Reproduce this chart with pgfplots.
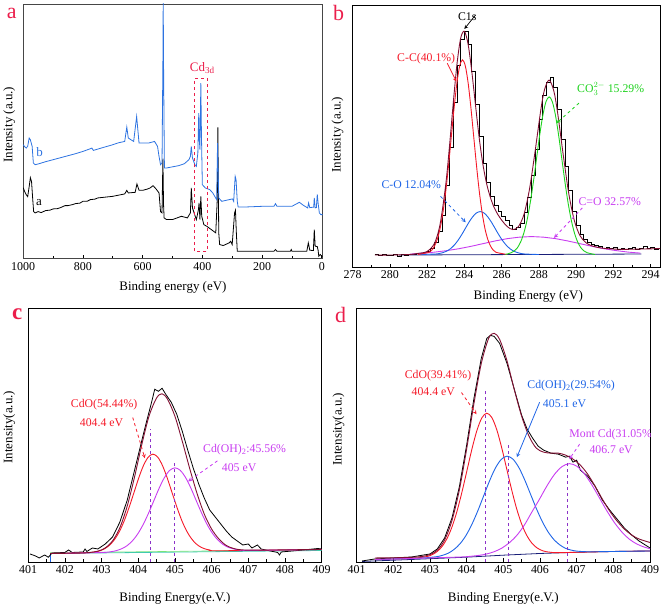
\documentclass[border=0pt]{standalone}
\usepackage{fontspec}
\setmainfont{Liberation Serif}
\usepackage{pgfplots}
\pgfplotsset{compat=1.18}
\definecolor{lblred}{RGB}{235,30,75}
\definecolor{cred}{RGB}{245,25,40}
\definecolor{cblue}{RGB}{30,100,230}
\definecolor{ablue}{RGB}{45,115,225}
\definecolor{cgreen}{RGB}{30,210,30}
\definecolor{cmag}{RGB}{200,60,240}
\definecolor{cenv}{RGB}{130,15,50}
\definecolor{cvl}{RGB}{140,50,200}
\definecolor{cnavy}{RGB}{25,30,120}
\definecolor{cteal}{RGB}{60,200,180}
\definecolor{frame}{RGB}{70,70,70}
\newcommand{\tf}{\fontsize{12}{14}\selectfont}
\newcommand{\lf}{\fontsize{13}{15}\selectfont}
\newcommand{\af}{\fontsize{11.8}{13.5}\selectfont}
\begin{document}
\begin{tikzpicture}
\path (0pt,0pt) rectangle (663pt,-611pt);
\pgfplotsset{panel/.style={scale only axis, enlargelimits=false, ytick=\empty,
  xtick pos=bottom, tick align=inside, minor x tick num=1,
  major tick length=4pt, minor tick length=2.5pt,
  axis line style={line width=0.8pt},
  every tick/.style={line width=0.6pt, black},
  xticklabel style={font=\tf},
  /pgf/number format/assume math mode=true, /pgf/number format/1000 sep={},
  clip=true, no markers, every axis plot/.append style={line width=0.9pt}}}

% ---------------- panel a ----------------
\begin{axis}[panel, at={(22pt,-259pt)}, anchor=south west, width=300pt, height=255pt,
  x dir=reverse, xmin=-3, xmax=1000, ymin=0, ymax=255,
  xtick={0,200,400,600,800,1000}, axis line style={frame, line width=0.8pt}]
\addplot[black, line width=0.8pt] coordinates {(1000,71)(995,67)(990,64)(985,62)(980,72)(976,81)(972,77)(968,59)(965,47)(960,45.7)(950,47)(940,46)(925,48)(910,48.5)(900,49.7)(885,50)(875,51)(860,53)(850,53)(835,54)(825,55)(810,55.5)(800,57.3)(785,57.5)(775,59)(760,59.5)(750,60.7)(725,61.5)(700,62.3)(680,63.5)(660,64.7)(653,68.3)(648,65.7)(625,66.3)(619,74.7)(612,68.3)(600,68.3)(585,69.5)(575,70.7)(565,73)(555,69.7)(545,65.7)(540,47)(535,45.7)(532,100)(530,55)(528,40.7)(520,39)(500,39)(470,42.3)(450,40.7)(440,45.7)(437,70.7)(433,50.7)(420,39)(413,49)(411,55.7)(408,39)(405,62.3)(402,42.3)(395,34)(385,32.3)(370,29)(355,25.7)(350,59)(348,131.3)(346,60)(345,25.7)(342,14)(330,13)(310,15.7)(305,17.3)(300,14)(292,45.7)(289,48.3)(286,25.7)(283,7.3)(250,7.3)(200,7.3)(160,7.3)(155,9)(150,7.3)(105,7.3)(102,9)(100,7.3)(50,7.3)(45,15.7)(40,8.3)(28,8)(25,29)(22,12.3)(15,12)(12,8)(10,2.3)(5,4)(0,2.3)(-3,2.3)};
\addplot[ablue, line width=0.8pt] coordinates {(1000,114)(995,112)(990,110.7)(985,112.3)(980,120.7)(976,119)(970,112.3)(966,95.7)(960,94)(950,94.7)(925,97)(900,99)(875,101)(850,103)(825,105)(800,107.3)(775,110)(770,110.7)(765,108.3)(735,111)(700,114)(680,116)(660,117.3)(653,131.7)(648,120.7)(630,117.3)(620,142.3)(612,115.7)(580,115.7)(560,117.3)(550,112.3)(545,102.3)(540,94)(535,95.7)(532,200)(531,262)(530,200)(527,90.7)(520,90.7)(480,93)(460,95)(445,99)(440,102.3)(437,112.3)(433,100.7)(425,94)(420,92.3)(415,105.7)(412,145.7)(410,119)(408,109)(405,175.7)(403,125.7)(400,74)(390,70.7)(375,69)(365,65.7)(352,59)(349,115.7)(345,60.7)(340,59)(335,57.3)(310,59)(299,59.7)(295,57.3)(290,82.3)(287,79)(283,57.3)(280,51.7)(250,51.7)(200,52.3)(160,52.3)(155,55)(150,52.3)(100,52.3)(75,56.3)(60,53)(47,50.7)(44,55.7)(40,51)(27,51.5)(25,60.7)(22,50.7)(18,51)(15,64.3)(12,55)(8,45.7)(3,44)(0,44)(-3,44)};
\draw[lblred, dashed, line width=0.9pt] (426,7.3) rectangle (384,180.7);
\node[lblred, font=\lf] at (400,191) {Cd\textsubscript{3d}};
\node[ablue, font=\lf] at (945,107) {b};
\node[black, font=\lf] at (947,56) {a};
\end{axis}

% ---------------- panel b ----------------
\begin{axis}[panel, at={(352pt,-268pt)}, anchor=south west, width=308pt, height=263pt,
  xmin=278, xmax=294.5, ymin=0, ymax=263, xtick={278,280,...,294}]
\addplot[cnavy, line width=0.8pt] coordinates {(280.5,12.5)(293.5,13.5)};
\addplot[black, const plot, line width=0.7pt] coordinates {(279.2,13)(279.4,12)(279.6,13.5)(279.8,12.5)(280.0,12)(280.2,13)(280.4,11.5)(280.6,13)(280.8,12.5)(281.0,13.5)(281.2,13)(281.4,14.5)(281.6,14)(281.8,15)(282.0,16.5)(282.2,19)(282.4,25)(282.6,36)(282.8,52)(283.0,82)(283.2,120)(283.4,165)(283.6,203)(283.8,229)(284.0,237)(284.2,224)(284.4,197)(284.6,163)(284.8,131)(285.0,104)(285.2,85)(285.4,71)(285.6,62)(285.8,56)(286.0,51)(286.2,47)(286.4,42)(286.6,38)(286.8,40)(287.0,44)(287.2,55)(287.4,70)(287.6,92)(287.8,118)(288.0,148)(288.2,172)(288.4,186)(288.6,191)(288.8,180)(289.0,158)(289.2,128)(289.4,101)(289.6,77)(289.8,56)(290.0,42)(290.2,33)(290.4,28)(290.6,25)(290.8,23)(291.0,22)(291.2,21)(291.4,19)(291.6,20.5)(291.8,19)(292.0,20)(292.2,18.5)(292.4,19.5)(292.6,18)(292.8,19)(293.0,20)(293.2,18)(293.4,19)(293.6,21)(293.8,19)(294.0,20)(294.2,18.5)(294.4,19.5)(294.6,19)};
\addplot[cmag] coordinates {(281.1,13.4)(281.75,14.4)(282.4,15.4)(283.05,16.9)(283.7,18.8)(284.35,21.2)(285.0,23.9)(285.65,26.6)(286.3,28.9)(286.95,30.4)(287.6,31)(288.25,30.4)(288.9,28.9)(289.55,26.6)(290.2,23.9)(290.85,21.2)(291.5,18.8)(292.15,16.9)(292.8,15.4)(293.45,14.4)};
\addplot[cblue, smooth] coordinates {(281.5,13)(282.45,13.5)(282.65,14.0)(282.85,14.9)(283.05,16.4)(283.25,18.8)(283.45,22.3)(283.65,27.0)(283.85,32.7)(284.05,39.1)(284.25,45.5)(284.45,50.9)(284.65,54.7)(284.85,56)(285.05,54.7)(285.25,50.9)(285.45,45.5)(285.65,39.1)(285.85,32.7)(286.05,27.0)(286.25,22.3)(286.45,18.8)(286.65,16.4)(286.85,14.9)(287.05,14.0)(287.25,13.5)(288,13)};
\addplot[cred, smooth] coordinates {(281.5,13)(282.1,15.2)(282.25,17.4)(282.4,21.6)(282.55,28.5)(282.7,39.4)(282.85,55.2)(283.0,76.3)(283.15,102.3)(283.3,131.3)(283.45,160.2)(283.6,185.1)(283.75,202)(283.9,208)(284.05,202)(284.2,185.1)(284.35,160.2)(284.5,131.3)(284.65,102.3)(284.8,76.3)(284.95,55.2)(285.1,39.4)(285.25,28.5)(285.4,21.6)(285.55,17.4)(285.7,15.2)(286.3,13)};
\addplot[cgreen, smooth] coordinates {(286.2,13)(286.51,14.8)(286.68,16.6)(286.85,19.9)(287.02,25.6)(287.19,34.4)(287.36,47.2)(287.53,64.3)(287.70,85.3)(287.87,108.8)(288.04,132.3)(288.21,152.4)(288.38,166.1)(288.55,171)(288.72,166.1)(288.89,152.4)(289.06,132.3)(289.23,108.8)(289.40,85.3)(289.57,64.3)(289.74,47.2)(289.91,34.4)(290.08,25.6)(290.25,19.9)(290.42,16.6)(290.59,14.8)(291.0,13)};
\addplot[cenv, smooth] coordinates {(279.2,12.5)(280,12.5)(281,13)(281.5,14.1)(282,16.1)(282.4,24.4)(282.7,43.7)(283,83.1)(283.2,121.4)(283.4,164.1)(283.6,203.3)(283.8,229.7)(284.0,236.7)(284.2,223.7)(284.4,196)(284.6,162.1)(284.8,129.2)(285.0,102.7)(285.2,83.5)(285.4,70)(285.6,60)(285.8,53)(286.0,47.5)(286.3,41)(286.6,38)(286.9,41)(287.2,53.3)(287.5,79)(287.8,117)(288.1,157.6)(288.3,178.1)(288.55,187.8)(288.8,176.9)(289.0,155.5)(289.3,113.6)(289.6,74.4)(289.9,47.1)(290.2,32.1)(290.5,25.2)(290.8,22)(291.2,20)(291.6,19)(292,18.5)(292.5,18.2)(293,18.3)(293.5,18.5)(294,18.7)(294.5,19)};
\draw[black, -stealth, line width=0.7pt] (284.6,253) -- (284.0,239);
\node[black, font=\af] at (284.15,251.5) {C1s};
\node[cred, font=\af] at (281.95,209.7) {C-C(40.1\%)};
\draw[cred, -stealth, line width=0.8pt] (283.08,204.7) -- (283.57,186.3);
\node[cgreen, font=\af] at (291.85,178.7) {CO$_{3}^{2-}$ 15.29\%};
\draw[cgreen, dashed, -stealth, line width=0.8pt] (290.15,164.7) -- (288.95,144.7);
\node[cblue, font=\af] at (281.15,83) {C-O 12.04\%};
\draw[cblue, dashed, -stealth, line width=0.8pt] (282.72,71.3) -- (284.07,45.3);
\node[cmag, font=\af] at (291.8,66.3) {C=O 32.57\%};
\draw[cmag, dashed, -stealth, line width=0.8pt] (290.33,59.7) -- (288.81,29.7);
\end{axis}

% ---------------- panel c ----------------
\begin{axis}[panel, at={(27pt,-563pt)}, anchor=south west, width=294pt, height=254pt,
  xmin=401, xmax=409, ymin=0, ymax=254, xtick={401,...,409}]
\addplot[cblue, line width=0.8pt] coordinates {(401.6,0)(401.6,8.5)};
\addplot[cteal, line width=0.8pt] coordinates {(401.6,8.5)(409,11.5)};
\addplot[cgreen!60, line width=0.6pt] coordinates {(401.6,9.2)(409,12.3)};
\addplot[black, line width=0.8pt] coordinates {(401.05,8)(401.2,6)(401.3,4)(401.45,7)(401.55,4.7)(401.65,9)(402.0,9.5)(402.1,12)(402.2,9.5)(402.5,10)(402.55,13)(402.6,10.5)(402.75,14)(402.9,13)(403.1,18)(403.3,25)(403.5,40)(403.7,62)(403.9,92)(404.1,122)(404.25,144)(404.35,158)(404.45,173)(404.55,171)(404.65,174)(404.75,168)(404.9,160)(405.05,148)(405.2,131)(405.35,112)(405.5,94)(405.65,78)(405.8,64)(405.95,52)(406.1,45)(406.25,38)(406.4,31)(406.55,25)(406.7,21)(406.85,17)(407.0,18)(407.1,14)(407.25,17)(407.35,13)(407.6,11)(407.8,9.5)(407.85,7)(407.9,10)(408.2,11)(408.5,12)(408.9,13.5)(409,13)};
\addplot[cred, smooth] coordinates {(401.6,8.5)(402.58,9.2)(402.84,10.3)(402.97,11.4)(403.10,13.6)(403.23,17.2)(403.36,22.8)(403.49,30.7)(403.62,41.4)(403.75,54.6)(403.88,69.1)(404.01,83.8)(404.14,96.4)(404.27,104.9)(404.40,108.0)(404.53,105.1)(404.66,96.7)(404.79,84.2)(404.92,69.7)(405.05,55.3)(405.18,42.2)(405.31,31.7)(405.44,23.9)(405.57,18.4)(405.70,15.0)(405.83,13.0)(405.96,11.95)(406.22,11.2)(409,12.5)};
\addplot[cmag, smooth] coordinates {(401.6,8.5)(402.97,9.4)(403.26,10.3)(403.405,11.4)(403.55,13.25)(403.695,16.3)(403.84,21.1)(403.985,28.0)(404.13,37.2)(404.275,48.4)(404.42,60.9)(404.565,73.5)(404.71,84.3)(404.855,91.7)(405.0,94.3)(405.145,91.8)(405.29,84.6)(405.435,74.0)(405.58,61.55)(405.725,49.2)(405.87,38.1)(406.015,29.1)(406.16,22.4)(406.305,17.7)(406.45,14.8)(406.595,13.1)(406.74,12.2)(407.03,11.6)(409,12.5)};
\addplot[cenv, smooth] coordinates {(401.6,8.5)(402.4,8.9)(402.7,9.6)(402.9,10.8)(403.1,14.0)(403.3,21.1)(403.5,34.4)(403.7,56.0)(403.9,85.3)(404.1,118.1)(404.3,146.8)(404.5,164.3)(404.65,168.5)(404.8,163)(405.0,146)(405.2,121)(405.4,94)(405.6,69)(405.8,48)(406.0,33)(406.2,23)(406.4,16.5)(406.6,13.5)(406.8,12.2)(407.2,11.8)(409,12.6)};
\addplot[cvl, dashed, line width=0.9pt] coordinates {(404.32,0)(404.32,133)};
\addplot[cvl, dashed, line width=0.9pt] coordinates {(404.98,0)(404.98,100.5)};
\node[cred, font=\af] at (403.07,158) {CdO(54.44\%)};
\node[cred, font=\af] at (403.0,139.7) {404.4 eV};
\draw[cred, dashed, -stealth, line width=0.8pt] (403.85,144.7) -- (404.18,104);
\node[cmag, font=\af] at (406.9,112.3) {Cd(OH)\textsubscript{2}:45.56\%};
\node[cmag, font=\af] at (406.75,94) {405 eV};
\draw[cmag, dashed, -stealth, line width=0.8pt] (406.16,101.3) -- (405.36,80.7);
\end{axis}

% ---------------- panel d ----------------
\begin{axis}[panel, at={(356pt,-563pt)}, anchor=south west, width=294pt, height=254pt,
  xmin=401, xmax=409, ymin=0, ymax=254, xtick={401,...,409}]
\addplot[cnavy, line width=0.8pt] coordinates {(401.15,0.5)(402.5,2.5)(404,4.8)(405,6.8)(406,8.5)(407,9.7)(408,10.5)(409,11)};
\addplot[black, line width=0.8pt] coordinates {(401.15,1)(401.5,3)(402,4)(402.5,5)(403,8)(403.2,13)(403.4,24)(403.6,44)(403.8,75)(404.0,117)(404.2,164)(404.4,204)(404.55,224)(404.65,227)(404.75,226)(404.9,219)(405.1,199)(405.3,173)(405.5,147)(405.65,133)(405.8,124)(405.95,116)(406.1,112)(406.3,109)(406.5,108)(406.7,105)(406.8,106)(406.9,100)(407.0,102)(407.1,92)(407.3,86)(407.5,76)(407.7,62)(407.9,52)(408.1,43)(408.3,34)(408.5,27)(408.7,21)(409,14)};
\addplot[cred, smooth] coordinates {(401.5,2.5)(402.5,3.5)(402.66,4.0)(402.93,5.5)(403.065,7.4)(403.2,10.5)(403.335,15.7)(403.47,23.8)(403.605,35.5)(403.74,51.1)(403.875,70.4)(404.01,91.7)(404.145,113.2)(404.28,131.7)(404.415,144.4)(404.55,149.0)(404.685,144.8)(404.82,132.7)(404.955,114.6)(405.09,93.7)(405.225,72.7)(405.36,53.8)(405.495,38.5)(405.63,27.2)(405.765,19.5)(405.9,14.6)(406.035,11.8)(406.17,10.3)(406.44,9.3)(407,9.7)(408,10.5)(409,11)};
\addplot[cblue, smooth] coordinates {(401.6,2.6)(402.5,3.5)(402.86,4.1)(403.18,5.3)(403.34,6.6)(403.5,8.8)(403.66,12.6)(403.82,18.2)(403.98,26.4)(404.14,37.4)(404.3,50.8)(404.46,65.8)(404.62,80.8)(404.78,93.8)(404.94,102.6)(405.1,106.0)(405.26,103.1)(405.42,94.9)(405.58,82.5)(405.74,68.1)(405.9,53.6)(406.06,40.7)(406.22,30.2)(406.38,22.4)(406.54,17.1)(406.7,13.6)(406.86,11.8)(407.02,10.8)(407.34,10.2)(408,10.5)(409,11)};
\addplot[cmag, smooth] coordinates {(401.5,2.5)(402.5,3.5)(403.5,4.6)(403.93,5.1)(404.34,6.6)(404.545,8.0)(404.75,10.25)(404.955,13.8)(405.16,19.1)(405.365,26.5)(405.57,36.7)(405.775,49.8)(405.98,62.5)(406.185,75.9)(406.39,87.5)(406.595,95.4)(406.8,98.5)(407.005,95.9)(407.21,88.4)(407.415,77.2)(407.62,64.2)(407.825,51.1)(408.03,39.4)(408.235,29.9)(408.44,22.7)(408.645,17.9)(408.85,14.8)(409,13.3)};
\addplot[cenv, smooth] coordinates {(401.5,4)(402.0,4.2)(402.5,4.6)(402.8,5.6)(403.0,7.4)(403.2,11.7)(403.4,22.0)(403.6,41.5)(403.8,71.8)(404.0,113.0)(404.2,158.8)(404.4,198.9)(404.6,224.0)(404.75,229.1)(404.9,222.9)(405.1,201.6)(405.3,172.5)(405.5,146)(405.7,126)(405.9,114)(406.1,110)(406.3,109)(406.5,109)(406.7,107)(406.9,103)(407.1,97)(407.3,88)(407.5,76)(407.7,63)(407.9,51)(408.1,41)(408.3,33)(408.5,27)(408.7,23)(409,19.5)};
\addplot[cvl, dashed, line width=0.9pt] coordinates {(404.52,0)(404.52,173)};
\addplot[cvl, dashed, line width=0.9pt] coordinates {(405.13,0)(405.13,119.7)};
\addplot[cvl, dashed, line width=0.9pt] coordinates {(406.74,0)(406.74,101.3)};
\node[cred, font=\af] at (403.22,186.3) {CdO(39.41\%)};
\node[cred, font=\af] at (403.09,170.7) {404.4 eV};
\draw[cred, dashed, -stealth, line width=0.8pt] (403.86,169.7) -- (404.27,148);
\node[cblue, font=\af] at (406.85,176.3) {Cd(OH)\textsubscript{2}(29.54\%)};
\node[cblue, font=\af] at (406.67,158.7) {405.1 eV};
\draw[cblue, -stealth, line width=0.8pt] (405.99,160) -- (405.37,105);
\node[cmag, font=\af] at (407.98,128) {Mont Cd(31.05\%)};
\node[cmag, font=\af] at (407.94,112.3) {406.7 eV};
\draw[cmag, dashed, -stealth, line width=0.8pt] (407.08,118) -- (406.8,103);
\end{axis}

% ---------------- axis titles and panel letters ----------------
\node[font=\lf] at (172pt,-288pt) {Binding energy (eV)};
\node[font=\lf, rotate=90] at (8pt,-125pt) {Intensity (a.u.)};
\node[font=\lf] at (528pt,-297pt) {Binding Energy (eV)};
\node[font=\lf, rotate=90] at (337pt,-135pt) {Intensity (a.u.)};
\node[font=\lf] at (174pt,-600pt) {Binding Energy(e.V.)};
\node[font=\lf, rotate=90] at (8pt,-428pt) {Intensity(a.u.)};
\node[font=\lf] at (503pt,-600pt) {Binding Energy(e.V.)};
\node[font=\lf, rotate=90] at (338pt,-430pt) {Intensity(a.u.)};
\node[lblred, font=\fontsize{22}{24}\selectfont] at (10.5pt,-13pt) {a};
\node[lblred, font=\fontsize{22}{24}\selectfont] at (338pt,-13pt) {b};
\node[lblred, font=\fontsize{23}{25}\selectfont\bfseries] at (16pt,-315pt) {c};
\node[lblred, font=\fontsize{22}{24}\selectfont] at (340pt,-316pt) {d};
\end{tikzpicture}
\end{document}
